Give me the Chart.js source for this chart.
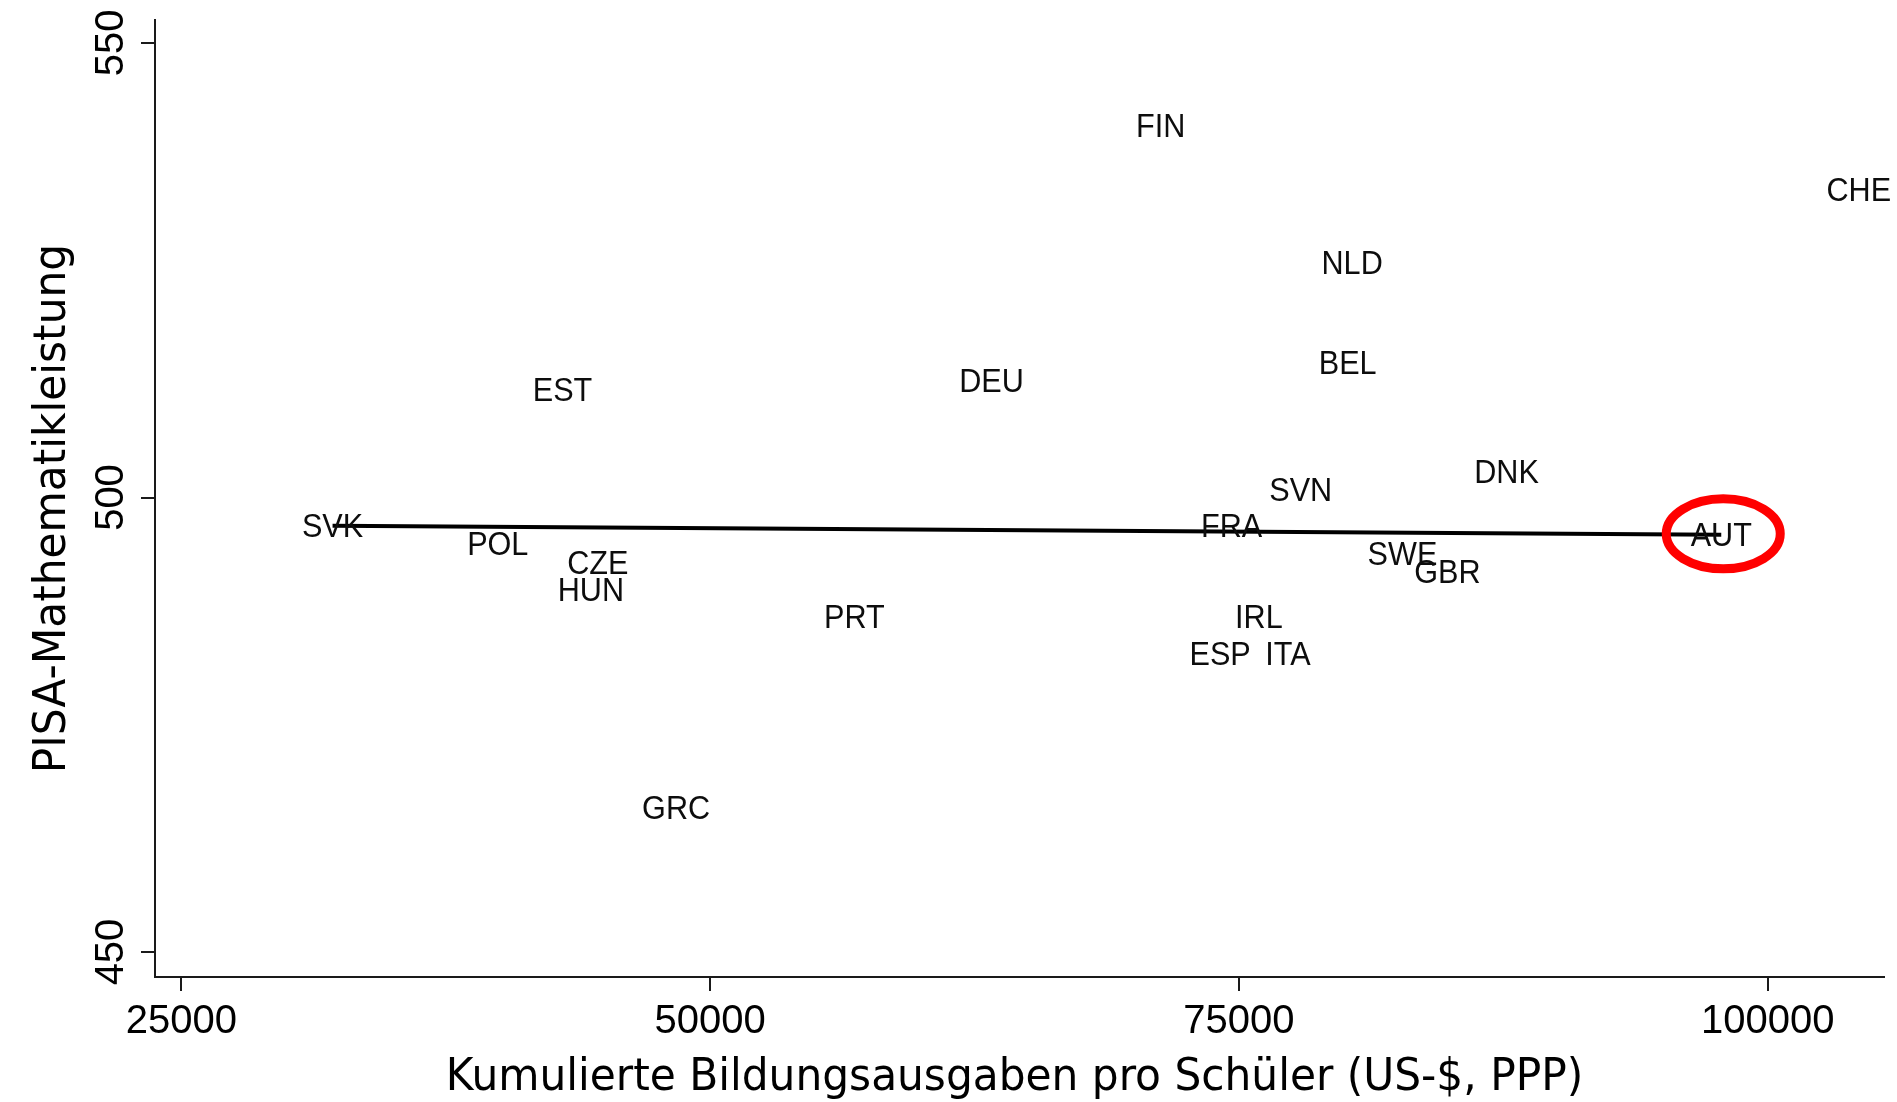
<!DOCTYPE html>
<html><head><meta charset="utf-8">
<script src="https://cdn.jsdelivr.net/npm/chart.js@4.4.1/dist/chart.umd.min.js"></script>
<style>html,body{margin:0;padding:0;background:#fff;overflow:hidden}#wrap{width:1897px;height:1102px;position:relative}</style>
</head><body><div id="wrap"><canvas id="c"></canvas></div>
<script>
const countries = ['FIN','CHE','NLD','BEL','EST','DEU','DNK','SVN','SVK','FRA','AUT','POL','CZE','SWE','GBR','HUN','PRT','IRL','ESP','ITA','GRC'];
const spending  = [71300,104300,80350,80140,43020,63300,87650,77920,32150,74650,97800,39960,44690,82730,84850,44360,56820,75940,74110,77320,48390];
const pisaMath  = [541,534,526,515,512,513,503,501,497,497,496,495,493,494,492,490,487,487,483,483,466];
const fitX = [32150, 97800];
const fitY = [496.9, 495.9];
const xTicks = [25000, 50000, 75000, 100000];
const yTicks = [450, 500, 550];
const xTitle = 'Kumulierte Bildungsausgaben pro Schüler (US-$, PPP)';
const yTitle = 'PISA-Mathematikleistung';
const highlight = 'AUT';

const annot = {
  id: 'annot',
  afterDatasetsDraw(chart) {
    const {ctx} = chart;
    const x = chart.scales.x, y = chart.scales.y;
    ctx.save();
    ctx.fillStyle = '#0d0d0d';
    ctx.textAlign = 'center';
    // point labels, centred on each point
    ctx.font = '34px "Liberation Sans", Arial, sans-serif';
    ctx.textBaseline = 'alphabetic';
    countries.forEach((c, i) => {
      const px = x.getPixelForValue(spending[i]);
      const py = y.getPixelForValue(pisaMath[i]);
      ctx.save(); ctx.translate(px, py + 12.5); ctx.scale(0.9, 1); ctx.fillText(c, 0, 0); ctx.restore();
    });
    // y tick labels (rotated)
    ctx.fillStyle = '#000';
    ctx.font = '40px "Liberation Sans", Arial, sans-serif';
    yTicks.forEach(v => {
      const py = y.getPixelForValue(v);
      ctx.save(); ctx.translate(y.right - 32, py); ctx.rotate(-Math.PI / 2); ctx.fillText(String(v), 0, 0); ctx.restore();
    });
    // axis titles
    ctx.font = '45px "DejaVu Sans", sans-serif';
    ctx.save(); ctx.translate((x.left + x.right) / 2 - 5, 1090); ctx.scale(0.94, 1); ctx.fillText(xTitle, 0, 0); ctx.restore();
    ctx.save(); ctx.translate(65, (y.top + y.bottom) / 2 + 10); ctx.rotate(-Math.PI / 2); ctx.scale(0.94, 1); ctx.fillText(yTitle, 0, 0); ctx.restore();
    // highlight ellipse
    const hi = countries.indexOf(highlight);
    const hx = x.getPixelForValue(spending[hi]) + 2;
    const hy = y.getPixelForValue(pisaMath[hi]);
    ctx.strokeStyle = '#ff0000';
    ctx.lineWidth = 9;
    ctx.beginPath();
    ctx.ellipse(hx, hy, 57, 35, 0, 0, Math.PI * 2);
    ctx.stroke();
    ctx.restore();
  }
};

new Chart(document.getElementById('c'), {
  type: 'scatter',
  data: {
    datasets: [
      {
        label: 'Länder',
        data: countries.map((c, i) => ({x: spending[i], y: pisaMath[i]})),
        pointRadius: 0, pointHoverRadius: 0, showLine: false
      },
      {
        label: 'Fit',
        data: fitX.map((v, i) => ({x: v, y: fitY[i]})),
        showLine: true, borderColor: '#000', borderWidth: 4, pointRadius: 0, fill: false
      }
    ]
  },
  options: {
    responsive: true,
    maintainAspectRatio: false,
    animation: false,
    events: [],
    layout: {padding: {top: 20, right: 13, left: 0, bottom: 0}},
    plugins: {legend: {display: false}, tooltip: {enabled: false}, title: {display: false}},
    scales: {
      x: {
        type: 'linear',
        min: 23756, max: 105494,
        afterBuildTicks: s => { s.ticks = xTicks.map(v => ({value: v})); },
        afterFit: s => { s.height = 125; },
        border: {display: true, color: '#1a1a1a', width: 2},
        grid: {display: true, drawOnChartArea: false, drawTicks: true, tickLength: 14, color: '#1a1a1a', lineWidth: 2},
        ticks: {
          color: '#000', padding: 7, maxRotation: 0, autoSkip: false,
          font: {family: '"Liberation Sans", Arial, sans-serif', size: 40},
          callback: v => String(v)
        }
      },
      y: {
        type: 'linear',
        min: 447.25, max: 552.53,
        afterBuildTicks: s => { s.ticks = yTicks.map(v => ({value: v})); },
        afterFit: s => { s.width = 155; },
        border: {display: true, color: '#1a1a1a', width: 2},
        grid: {display: true, drawOnChartArea: false, drawTicks: true, tickLength: 14, color: '#1a1a1a', lineWidth: 2},
        ticks: {display: false}
      }
    }
  },
  plugins: [annot]
});
</script>
</body></html>
